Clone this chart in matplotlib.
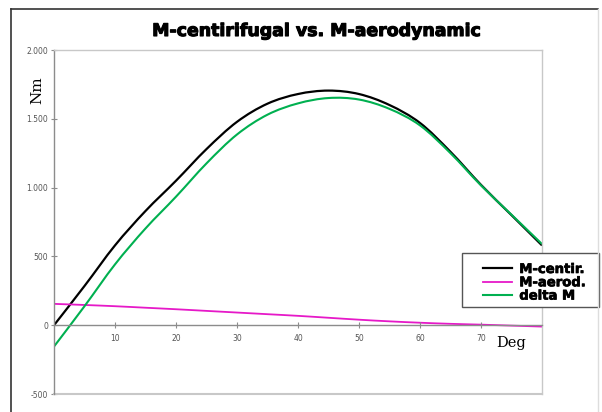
import matplotlib
matplotlib.use('Agg')
import matplotlib.pyplot as plt
import matplotlib.patheffects as pe
from matplotlib.lines import Line2D
from matplotlib.path import Path
from matplotlib.patches import PathPatch
import numpy as np

# Values (every 5 deg)
deg = [0, 5, 10, 15, 20, 25, 30, 35, 40, 45, 50, 55, 60, 65, 70, 75, 80]
m_centir = [0, 285, 580, 830, 1050, 1280, 1478, 1610, 1680, 1705, 1680, 1600, 1470, 1260, 1020, 800, 580]
m_aerod = [155, 147, 138, 127, 116, 104, 92, 80, 68, 54, 40, 28, 18, 10, 4, -3, -10]
delta_m = list(np.array(m_centir) - np.array(m_aerod))

x_ticks = [10, 20, 30, 40, 50, 60, 70]
y_ticks = [-500, 0, 500, 1000, 1500, 2000]


def smooth_line(ax, x, y, color, lw, label):
    # Excel-style smoothed line: bezier segments through the data points
    x = np.asarray(x, float)
    y = np.asarray(y, float)
    verts = [(x[0], y[0])]
    codes = [Path.MOVETO]
    n = len(x)
    for i in range(n - 1):
        x0, y0 = (x[i - 1], y[i - 1]) if i > 0 else (x[i], y[i])
        x3, y3 = (x[i + 2], y[i + 2]) if i + 2 < n else (x[i + 1], y[i + 1])
        c1 = (x[i] + (x[i + 1] - x0) / 6, y[i] + (y[i + 1] - y0) / 6)
        c2 = (x[i + 1] - (x3 - x[i]) / 6, y[i + 1] - (y3 - y[i]) / 6)
        verts += [c1, c2, (x[i + 1], y[i + 1])]
        codes += [Path.CURVE4] * 3
    ax.add_patch(PathPatch(Path(verts, codes), facecolor='none', edgecolor=color, lw=lw))
    ax.plot([], [], color=color, lw=lw, label=label)


W, H = 602, 412
fig = plt.figure(figsize=(W / 100, H / 100), dpi=100)
ax = fig.add_axes([54 / W, 1 - 394 / H, (542 - 54) / W, (394 - 50) / H])

smooth_line(ax, deg, m_centir, 'black', 1.6, 'M-centir.')
smooth_line(ax, deg, m_aerod, '#e619c8', 1.3, 'M-aerod.')
smooth_line(ax, deg, delta_m, '#00b050', 1.5, 'delta M')

ax.set_xlim(0, 80)
ax.set_ylim(-500, 2000)

grey = '#8c8c8c'
ax.spines['bottom'].set_position(('data', 0))
for s in ['left', 'bottom', 'top', 'right']:
    ax.spines[s].set_color(grey)
    ax.spines[s].set_linewidth(1.0)
ax.axhline(-500, color='#c8c8c8', lw=1.5, clip_on=False)
ax.spines['top'].set_color('#c8c8c8')
ax.spines['right'].set_color('#c8c8c8')

ax.set_xticks(x_ticks)
ax.set_yticks(y_ticks)
ax.set_yticklabels([f'{v:,.0f}'.replace(',', '.') for v in y_ticks])
ax.tick_params(axis='both', direction='inout', length=4, width=0.8, color=grey,
               labelsize=5.5, labelcolor='#555555', pad=2)
ax.tick_params(axis='x', pad=4)

# outer frame
fig.add_artist(Line2D([11 / W, 11 / W], [0, 1 - 9 / H], color='#333333', lw=1.2))
fig.add_artist(Line2D([11 / W, 598 / W], [1 - 9 / H, 1 - 9 / H], color='#333333', lw=1.2))
fig.add_artist(Line2D([598 / W, 598 / W], [0, 1 - 9 / H], color='#dddddd', lw=1.0))

fig.text(317 / W, 1 - 31 / H, 'M-centirifugal vs. M-aerodynamic', ha='center', va='center',
         fontsize=12.5, fontweight='bold', family='DejaVu Sans',
         path_effects=[pe.withStroke(linewidth=0.8, foreground='black')])
fig.text(37 / W, 1 - 90 / H, 'Nm', rotation=90, ha='center', va='center',
         fontsize=11, family='DejaVu Serif')
fig.text(511 / W, 1 - 343 / H, 'Deg', ha='center', va='center',
         fontsize=10.5, family='DejaVu Serif')

# legend box drawn separately
box = plt.Rectangle((462 / W, 1 - 307 / H), (599 - 462) / W, (307 - 253) / H,
                    transform=fig.transFigure, facecolor='white',
                    edgecolor='#555555', lw=1.0, clip_on=False, zorder=4)
ax.add_artist(box)
leg = ax.legend(loc='upper left', bbox_to_anchor=(483 / W, 1 - 263 / H),
                bbox_transform=fig.transFigure, frameon=False, borderpad=0,
                borderaxespad=0, handlelength=2.2, handletextpad=0.55, labelspacing=0.02,
                prop={'family': 'DejaVu Sans', 'weight': 'bold', 'size': 9.5})
for t in leg.get_texts():
    t.set_path_effects([pe.withStroke(linewidth=0.5, foreground='black')])
leg.set_zorder(5)

fig.savefig('out.png', dpi=100)
